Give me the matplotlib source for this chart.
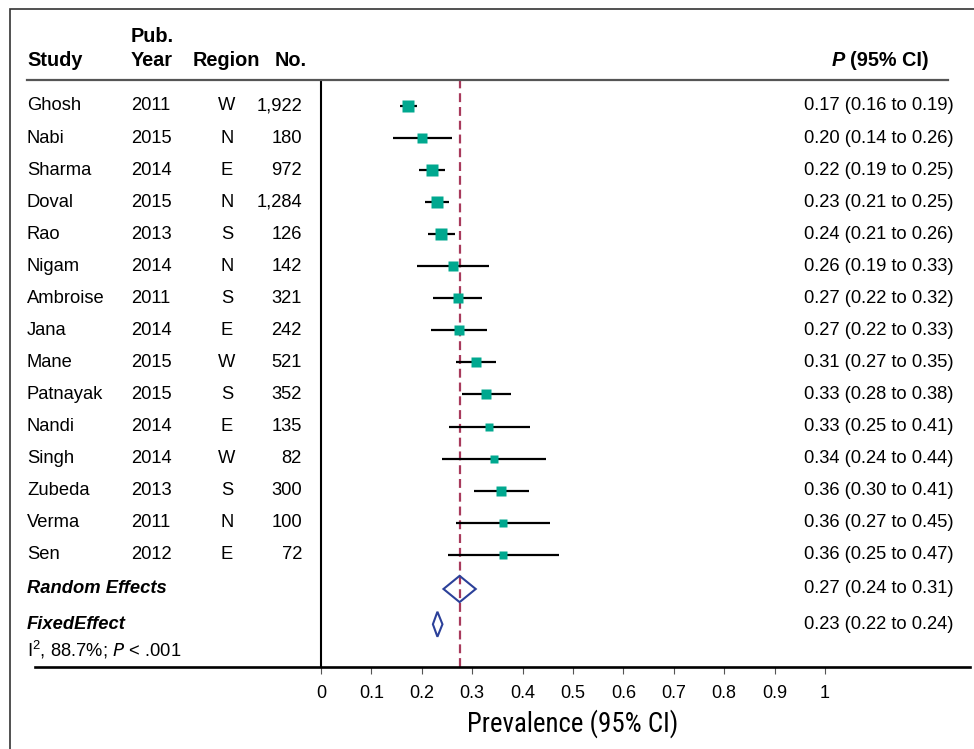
import numpy as np
import matplotlib.pyplot as plt
from matplotlib import transforms
from matplotlib import font_manager
from matplotlib.patches import Polygon, Rectangle

plt.rcParams['font.family'] = ['Liberation Sans', 'DejaVu Sans']

# study rows
study = ['Ghosh', 'Nabi', 'Sharma', 'Doval', 'Rao', 'Nigam', 'Ambroise', 'Jana',
         'Mane', 'Patnayak', 'Nandi', 'Singh', 'Zubeda', 'Verma', 'Sen']
year = [2011, 2015, 2014, 2015, 2013, 2014, 2011, 2014, 2015, 2015, 2014, 2014, 2013, 2011, 2012]
region = ['W', 'N', 'E', 'N', 'S', 'N', 'S', 'E', 'W', 'S', 'E', 'W', 'S', 'N', 'E']
number = ['1,922', '180', '972', '1,284', '126', '142', '321', '242', '521', '352',
          '135', '82', '300', '100', '72']
est = [0.173, 0.201, 0.221, 0.231, 0.239, 0.261, 0.272, 0.274, 0.308, 0.327,
       0.334, 0.343, 0.357, 0.361, 0.361]
lo = [0.157, 0.142, 0.195, 0.207, 0.212, 0.190, 0.223, 0.218, 0.268, 0.279,
      0.254, 0.240, 0.304, 0.267, 0.251]
hi = [0.191, 0.259, 0.247, 0.253, 0.266, 0.333, 0.320, 0.329, 0.347, 0.376,
      0.414, 0.446, 0.412, 0.455, 0.472]
weight = [8.6, 5.7, 8.6, 8.6, 8.6, 5.7, 7.1, 7.1, 7.1, 7.1, 5.4, 4.5, 7.1, 4.5, 4.5]
ci_text = ['0.17 (0.16 to 0.19)', '0.20 (0.14 to 0.26)', '0.22 (0.19 to 0.25)',
           '0.23 (0.21 to 0.25)', '0.24 (0.21 to 0.26)', '0.26 (0.19 to 0.33)',
           '0.27 (0.22 to 0.32)', '0.27 (0.22 to 0.33)', '0.31 (0.27 to 0.35)',
           '0.33 (0.28 to 0.38)', '0.33 (0.25 to 0.41)', '0.34 (0.24 to 0.44)',
           '0.36 (0.30 to 0.41)', '0.36 (0.27 to 0.45)', '0.36 (0.25 to 0.47)']

# pooled estimates
summary_name = ['Random Effects', 'FixedEffect']
summary_est = [0.275, 0.231]
summary_lo = [0.243, 0.222]
summary_hi = [0.307, 0.241]
summary_text = ['0.27 (0.24 to 0.31)', '0.23 (0.22 to 0.24)']
pooled = 0.275

xticks = [0, 0.1, 0.2, 0.3, 0.4, 0.5, 0.6, 0.7, 0.8, 0.9, 1]
xticklabels = ['0', '0.1', '0.2', '0.3', '0.4', '0.5', '0.6', '0.7', '0.8', '0.9', '1']

# narrow face for the axis title if there is one
names = {f.name for f in font_manager.fontManager.ttflist}
narrow = [n for n in ['Liberation Sans Narrow', 'DejaVu Sans Condensed', 'Roboto Condensed']
          if n in names]
if narrow:
    label_font = dict(family=[narrow[0]], fontsize=19.4)
else:
    label_font = dict(family=['Liberation Sans'], fontsize=17)

W, H = 974, 749
fig = plt.figure(figsize=(W / 100, H / 100), dpi=100)
ax = fig.add_axes([35 / W, 1 - 667 / H, (970 - 35) / W, (667 - 80) / H])

x0, scale = 321, 504.0
ax.set_xlim((35 - x0) / scale, (970 - x0) / scale)
row_h = 32.05
ax.set_ylim((667 - 106) / row_h, (80 - 106) / row_h)

green = '#00a88f'
navy = '#2b4099'
red = '#a83a5c'

rows = np.arange(len(study))
ax.hlines(rows, lo, hi, color='black', lw=1.6, zorder=2)
for r, e, w in zip(rows, est, weight):
    ax.plot(e, r, marker='s', ms=np.sqrt(w) * 3.8 * 0.72, color=green, mec='none', zorder=3)

y_sum = [len(study) + 0.07, len(study) + 1.17]
half = [0.41, 0.39]
for y, e, l, h, hh in zip(y_sum, summary_est, summary_lo, summary_hi, half):
    ax.add_patch(Polygon([(l, y), (e, y - hh), (h, y), (e, y + hh)], closed=True,
                         fill=False, edgecolor=navy, lw=1.5, zorder=3))

ax.axvline(0, color='black', lw=1.5, zorder=1)
ax.axvline(pooled, color=red, lw=1.6, ls=(0, (4, 2.2)), zorder=1)

for s in ['top', 'right', 'left']:
    ax.spines[s].set_visible(False)
ax.spines['bottom'].set_linewidth(1.9)
ax.set_yticks([])
ax.set_xticks(xticks)
ax.set_xticklabels(xticklabels, fontsize=13)
ax.tick_params(axis='x', length=5, width=0.8, color='#555555', pad=8)
ax.set_xlabel('Prevalence (95% CI)', va='center', **label_font)
# title sits under the middle of the 0-1 scale
ax.xaxis.set_label_coords(0.5, -57 / 587,
                          transform=transforms.blended_transform_factory(ax.transData, ax.transAxes))

# text columns
trans = transforms.blended_transform_factory(fig.transFigure, ax.transData)
fs = 13.2
for r in rows:
    ax.text(27 / W, r, study[r], transform=trans, fontsize=fs, va='center', ha='left')
    ax.text(131 / W, r, str(year[r]), transform=trans, fontsize=fs, va='center', ha='left')
    ax.text(227 / W, r, region[r], transform=trans, fontsize=fs, va='center', ha='center')
    ax.text(302 / W, r, number[r], transform=trans, fontsize=fs, va='center', ha='right')
    ax.text(954 / W, r, ci_text[r], transform=trans, fontsize=fs, va='center', ha='right')

for y, name, t in zip(y_sum, summary_name, summary_text):
    ax.text(27 / W, y, name, transform=trans, fontsize=fs, va='center', ha='left',
            weight='bold', style='italic')
    ax.text(954 / W, y, t, transform=trans, fontsize=fs, va='center', ha='right')
ax.text(27 / W, len(study) + 1.98, r'I$^{\mathregular{2}}$, 88.7%; $\it{P}$ < .001',
        transform=trans, fontsize=fs, va='center', ha='left')

# header
hfs = 14.3
fig.text(131 / W, 1 - 37 / H, 'Pub.', fontsize=hfs, weight='bold', va='center', ha='left')
fig.text(27 / W, 1 - 61 / H, 'Study', fontsize=hfs, weight='bold', va='center', ha='left')
fig.text(131 / W, 1 - 61 / H, 'Year', fontsize=hfs, weight='bold', va='center', ha='left')
fig.text(226 / W, 1 - 61 / H, 'Region', fontsize=hfs, weight='bold', va='center', ha='center')
fig.text(307 / W, 1 - 61 / H, 'No.', fontsize=hfs, weight='bold', va='center', ha='right')
ci_head = fig.text(929 / W, 1 - 61 / H, '(95% CI)', fontsize=hfs, weight='bold',
                   va='center', ha='right')
ax.annotate('P ', xy=(0, 0.5), xycoords=ci_head, fontsize=hfs, weight='bold',
            style='italic', va='center', ha='right', annotation_clip=False)
fig.add_artist(plt.Line2D([27 / W, 948 / W], [1 - 80 / H, 1 - 80 / H],
                          transform=fig.transFigure, color='#555555', lw=1.6))

# frame
fig.add_artist(Rectangle((10 / W, -0.1), 1.2, 1.1 - 9 / H, transform=fig.transFigure,
                         fill=False, edgecolor='#333333', lw=1.2))

fig.savefig('out.png', dpi=100)
